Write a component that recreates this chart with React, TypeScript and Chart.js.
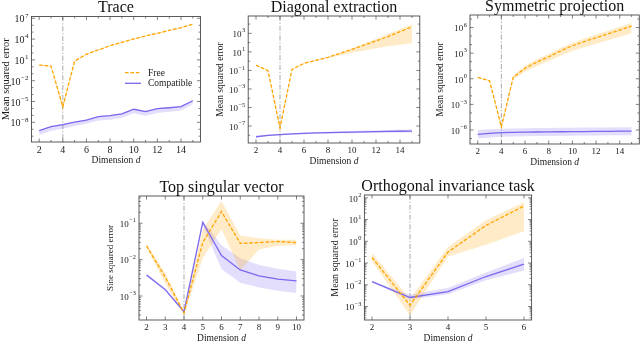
import React, { useEffect, useRef } from 'react';
import { Chart, registerables } from 'chart.js';

Chart.register(...registerables);

const FONT = '"Liberation Serif", "DejaVu Serif", serif';
const ORANGE = 'rgb(255,165,0)';
const ORANGE_BAND = 'rgba(255,165,0,0.22)';
const PURPLE = 'rgb(123,104,238)';
const PURPLE_BAND = 'rgba(123,104,238,0.22)';
const TEXT = '#1a1a1a';
const FRAME = '#4a4a4a';

// ---------- Data ----------
const dimsLong = [2, 3, 4, 5, 6, 7, 8, 9, 10, 11, 12, 13, 14, 15];
const dimsTsv = [2, 3, 4, 5, 6, 7, 8, 9, 10];
const dimsOit = [2, 3, 4, 5, 6];

const ticksLong = [2, 4, 6, 8, 10, 12, 14];
const ticksTsv = [2, 3, 4, 5, 6, 7, 8, 9, 10];
const ticksOit = [2, 3, 4, 5, 6];

// Trace
const traceFree = [1.8, 1.3, 1.8e-6, 7.0, 6.5e1, 2.7e2, 1.1e3, 3.5e3, 1.05e4, 2.8e4, 6.9e4, 1.8e5, 4.4e5, 1.35e6];
const traceFreeHi = [2.1, 1.55, 5e-6, 8.2, 7.5e1, 3.1e2, 1.25e3, 4.0e3, 1.2e4, 3.2e4, 7.9e4, 2.1e5, 5.0e5, 1.55e6];
const traceFreeLo = [1.5, 1.1, 5e-7, 5.8, 5.6e1, 2.3e2, 9.5e2, 3.0e3, 9.0e3, 2.4e4, 6.0e4, 1.55e5, 3.8e5, 1.15e6];
const traceComp = [6.2e-10, 2.3e-9, 4.5e-9, 1.1e-8, 2.1e-8, 6.5e-8, 8.9e-8, 1.6e-7, 7.6e-7, 3.4e-7, 9.1e-7, 1.26e-6, 1.8e-6, 1.3e-5];
const traceCompHi = [7.5e-10, 2.8e-9, 5.5e-9, 1.3e-8, 2.6e-8, 7.8e-8, 1.1e-7, 2.0e-7, 9.0e-7, 5.0e-7, 1.1e-6, 1.5e-6, 2.2e-6, 1.5e-5];
const traceCompLo = [1.5e-10, 6e-10, 1.2e-9, 3e-9, 6e-9, 1.8e-8, 2.4e-8, 4.5e-8, 2.0e-7, 9e-8, 2.2e-7, 3.2e-7, 5e-7, 4e-6];
const traceYTicks = [-8, -5, -2, 1, 4, 7];

// Diagonal extraction
const diagFree = [3.8e-1, 9.3e-2, 6.3e-8, 1.3e-1, 5.8e-1, 1.23, 2.6, 6.9, 1.9e1, 5.2e1, 1.5e2, 4.5e2, 1.5e3, 5.1e3];
const diagFreeHi = [4.2e-1, 1.05e-1, 1.2e-7, 1.45e-1, 6.5e-1, 1.4, 2.9, 8.0, 2.5e1, 8.0e1, 2.5e2, 9.0e2, 2.8e3, 9.3e3];
const diagFreeLo = [3.4e-1, 8.2e-2, 3e-8, 1.15e-1, 5.2e-1, 1.1, 2.2, 4.0, 8.0, 1.4e1, 2.5e1, 4.0e1, 6.0e1, 8.3e1];
const diagComp = [7e-9, 1e-8, 1.2e-8, 1.4e-8, 1.6e-8, 1.8e-8, 1.9e-8, 2.1e-8, 2.25e-8, 2.4e-8, 2.5e-8, 2.6e-8, 2.75e-8, 2.8e-8];
const diagCompHi = [8.5e-9, 1.2e-8, 1.45e-8, 1.7e-8, 1.95e-8, 2.2e-8, 2.4e-8, 2.7e-8, 3.0e-8, 3.2e-8, 3.4e-8, 3.7e-8, 4.0e-8, 4.2e-8];
const diagCompLo = [5.8e-9, 8.3e-9, 1.0e-8, 1.15e-8, 1.3e-8, 1.45e-8, 1.5e-8, 1.65e-8, 1.7e-8, 1.8e-8, 1.85e-8, 1.9e-8, 2.0e-8, 2.0e-8];
const diagYTicks = [-7, -5, -3, -1, 1, 3];

// Symmetric projection
const symFree = [1.45, 5.9e-1, 2.3e-6, 1.45, 1.7e1, 9.0e1, 3.8e2, 1.8e3, 7.4e3, 2.3e4, 6.5e4, 1.8e5, 5.1e5, 1.5e6];
const symFreeHi = [1.6, 6.5e-1, 4e-6, 2.3, 3.4e1, 1.9e2, 8.0e2, 3.9e3, 1.6e4, 5.1e4, 1.5e5, 4.1e5, 1.2e6, 3.6e6];
const symFreeLo = [1.3, 5.3e-1, 1.2e-6, 8.0e-1, 6.8, 3.2e1, 1.2e2, 5.0e2, 1.85e3, 5.2e3, 1.3e4, 3.3e4, 8.5e4, 2.1e5];
const symComp = [3.1e-7, 4e-7, 4.8e-7, 5.2e-7, 5.5e-7, 5.8e-7, 6e-7, 6.2e-7, 6.4e-7, 6.6e-7, 6.8e-7, 7e-7, 7.2e-7, 7.4e-7];
const symCompHi = [1e-6, 1.2e-6, 1.4e-6, 1.5e-6, 1.6e-6, 1.7e-6, 1.75e-6, 1.8e-6, 1.85e-6, 1.9e-6, 1.95e-6, 2e-6, 2.05e-6, 2.1e-6];
const symCompLo = [1e-7, 1.35e-7, 1.6e-7, 1.75e-7, 1.85e-7, 1.95e-7, 2e-7, 2.1e-7, 2.15e-7, 2.2e-7, 2.3e-7, 2.35e-7, 2.4e-7, 2.5e-7];
const symYTicks = [-6, -3, 0, 3, 6];

// Top singular vector
const tsvFree = [2.4e-2, 3.3e-3, 3.4e-4, 2.95e-2, 2.1e-1, 2.8e-2, 2.95e-2, 3.15e-2, 2.95e-2];
const tsvFreeHi = [2.7e-2, 4.3e-3, 3.8e-4, 6.6e-2, 4.1e-1, 4.6e-2, 3.9e-2, 3.5e-2, 3.5e-2];
const tsvFreeLo = [2.1e-2, 2.2e-3, 3.0e-4, 1.1e-2, 6.9e-2, 5.2e-3, 1.9e-2, 2.4e-2, 2.5e-2];
const tsvComp = [3.8e-3, 1.5e-3, 3.7e-4, 1.07e-1, 1.3e-2, 5.2e-3, 3.6e-3, 2.9e-3, 2.6e-3];
const tsvCompHi = [4.2e-3, 1.6e-3, 4.0e-4, 1.15e-1, 2.5e-2, 1.1e-2, 7.1e-3, 5.6e-3, 4.7e-3];
const tsvCompLo = [3.5e-3, 1.35e-3, 3.5e-4, 8.9e-2, 5.5e-3, 2.3e-3, 1.7e-3, 1.4e-3, 1.2e-3];
const tsvYTicks = [-3, -2, -1];

// Orthogonal invariance task
const oitFree = [1.8e-1, 1.15e-3, 3.2e-1, 5.4, 4.2e1];
const oitFreeHi = [2.9e-1, 2.2e-3, 5.5e-1, 9.3, 6.2e1];
const oitFreeLo = [1.2e-1, 4.0e-4, 2.0e-1, 7.0e-1, 2.9];
const oitComp = [1.4e-2, 2.6e-3, 4.9e-3, 2.4e-2, 8.9e-2];
const oitCompHi = [1.5e-2, 3.5e-3, 7.1e-3, 3.7e-2, 1.7e-1];
const oitCompLo = [1.3e-2, 2.1e-3, 3.7e-3, 1.6e-2, 4.5e-2];
const oitYTicks = [-3, -2, -1, 0, 1, 2];

// ---------- Panel configuration ----------
interface PanelCfg {
  id: string;
  title: string;
  yLabel: string;
  box: [number, number, number, number];
  dims: number[];
  free: number[]; freeHi: number[]; freeLo: number[];
  comp: number[]; compHi: number[]; compLo: number[];
  xRange: [number, number];
  xTicks: number[];
  xMinor: number[];
  yExp: [number, number];
  yTickExps: number[];
  yMinorSub: boolean;
  vline: number;
  legend: boolean;
  tickFont: number;
  yLabelFont: number;
  yLabelX: number;
}

const panels: PanelCfg[] = [
  {
    id: 'trace', title: 'Trace', yLabel: 'Mean squared error',
    box: [31.5, 16.5, 200.5, 142],
    dims: dimsLong, free: traceFree, freeHi: traceFreeHi, freeLo: traceFreeLo,
    comp: traceComp, compHi: traceCompHi, compLo: traceCompLo,
    xRange: [1.35, 15.65], xTicks: ticksLong, xMinor: [3, 5, 7, 9, 11, 13, 15],
    yExp: [-10.84, 7.26], yTickExps: traceYTicks, yMinorSub: false,
    vline: 4, legend: true, tickFont: 10, yLabelFont: 10.5, yLabelX: 6,
  },
  {
    id: 'diag', title: 'Diagonal extraction', yLabel: 'Mean squared error',
    box: [248.2, 16, 419.8, 143],
    dims: dimsLong, free: diagFree, freeHi: diagFreeHi, freeLo: diagFreeLo,
    comp: diagComp, compHi: diagCompHi, compLo: diagCompLo,
    xRange: [1.35, 15.65], xTicks: ticksLong, xMinor: [3, 5, 7, 9, 11, 13, 15],
    yExp: [-8.83, 4.87], yTickExps: diagYTicks, yMinorSub: false,
    vline: 4, legend: false, tickFont: 9, yLabelFont: 9.5, yLabelX: 220.5,
  },
  {
    id: 'sym', title: 'Symmetric projection', yLabel: 'Mean squared error',
    box: [470, 15, 639.3, 144],
    dims: dimsLong, free: symFree, freeHi: symFreeHi, freeLo: symFreeLo,
    comp: symComp, compHi: symCompHi, compLo: symCompLo,
    xRange: [1.35, 15.65], xTicks: ticksLong, xMinor: [3, 5, 7, 9, 11, 13, 15],
    yExp: [-7.64, 7.47], yTickExps: symYTicks, yMinorSub: false,
    vline: 4, legend: false, tickFont: 9, yLabelFont: 9.5, yLabelX: 440.5,
  },
  {
    id: 'tsv', title: 'Top singular vector', yLabel: 'Sine squared error',
    box: [139, 196, 304, 320],
    dims: dimsTsv, free: tsvFree, freeHi: tsvFreeHi, freeLo: tsvFreeLo,
    comp: tsvComp, compHi: tsvCompHi, compLo: tsvCompLo,
    xRange: [1.6, 10.4], xTicks: ticksTsv, xMinor: [],
    yExp: [-3.66, -0.25], yTickExps: tsvYTicks, yMinorSub: true,
    vline: 4, legend: false, tickFont: 9, yLabelFont: 9, yLabelX: 110.5,
  },
  {
    id: 'oit', title: 'Orthogonal invariance task', yLabel: 'Mean squared error',
    box: [364.4, 195, 531.6, 320],
    dims: dimsOit, free: oitFree, freeHi: oitFreeHi, freeLo: oitFreeLo,
    comp: oitComp, compHi: oitCompHi, compLo: oitCompLo,
    xRange: [1.8, 6.2], xTicks: ticksOit, xMinor: [],
    yExp: [-3.62, 2.13], yTickExps: oitYTicks, yMinorSub: true,
    vline: 3, legend: false, tickFont: 9, yLabelFont: 10, yLabelX: 335.5,
  },
];

const W = 640;
const H = 342;
const XAXIS_H = 14;

function decorPlugin(cfg: PanelCfg) {
  return {
    id: 'decor-' + cfg.id,
    beforeDatasetsDraw(chart: any) {
      const { ctx, chartArea: a, scales } = chart;
      const x = scales.x.getPixelForValue(cfg.vline);
      ctx.save();
      ctx.strokeStyle = '#a8a8a8';
      ctx.lineWidth = 1;
      ctx.setLineDash([5, 1.8, 1.2, 1.8]);
      ctx.beginPath();
      ctx.moveTo(x, a.top);
      ctx.lineTo(x, a.bottom);
      ctx.stroke();
      ctx.restore();
    },
    afterDraw(chart: any) {
      const { ctx, chartArea: a, scales, data } = chart;
      const sx = scales.x;
      const sy = scales.y;
      ctx.save();
      // frame
      ctx.strokeStyle = FRAME;
      ctx.lineWidth = 0.9;
      ctx.setLineDash([]);
      ctx.strokeRect(a.left, a.top, a.right - a.left, a.bottom - a.top);

      // tick marks (inward, all sides)
      const majL = 3.5;
      const minL = 2;
      ctx.lineWidth = 0.7;
      ctx.beginPath();
      const xMark = (v: number, len: number) => {
        const px = sx.getPixelForValue(v);
        if (px < a.left || px > a.right) return;
        ctx.moveTo(px, a.bottom); ctx.lineTo(px, a.bottom - len);
        ctx.moveTo(px, a.top); ctx.lineTo(px, a.top + len);
      };
      const yMark = (v: number, len: number) => {
        const py = sy.getPixelForValue(v);
        if (py < a.top - 0.1 || py > a.bottom + 0.1) return;
        ctx.moveTo(a.left, py); ctx.lineTo(a.left + len, py);
        ctx.moveTo(a.right, py); ctx.lineTo(a.right - len, py);
      };
      cfg.xTicks.forEach((v) => xMark(v, majL));
      cfg.xMinor.forEach((v) => xMark(v, minL));
      sy.ticks.forEach((t: any) => yMark(t.value, majL));
      const lo = Math.floor(cfg.yExp[0]);
      const hi = Math.ceil(cfg.yExp[1]);
      for (let e = lo; e <= hi; e++) {
        if (cfg.yMinorSub) {
          for (let k = 2; k <= 9; k++) yMark(k * Math.pow(10, e), minL);
        } else if (!cfg.yTickExps.includes(e)) {
          yMark(Math.pow(10, e), minL);
        }
      }
      ctx.stroke();

      // y tick labels with superscript exponents
      ctx.fillStyle = TEXT;
      ctx.textBaseline = 'middle';
      ctx.textAlign = 'left';
      const f = cfg.tickFont;
      sy.ticks.forEach((t: any) => {
        const py = sy.getPixelForValue(t.value);
        const exp = String(Math.round(Math.log10(t.value))).replace('-', '\u2212');
        ctx.font = `${f * 0.7}px ${FONT}`;
        const we = ctx.measureText(exp).width;
        ctx.font = `${f}px ${FONT}`;
        const wb = ctx.measureText('10').width;
        const right = a.left - 3;
        ctx.fillText('10', right - we - wb - 0.5, py + 1.5);
        ctx.font = `${f * 0.7}px ${FONT}`;
        ctx.fillText(exp, right - we, py - 2.5);
      });

      // x axis title: "Dimension d"
      const xf = 9.5;
      ctx.font = `${xf}px ${FONT}`;
      const w1 = ctx.measureText('Dimension ').width;
      ctx.font = `italic ${xf}px ${FONT}`;
      const w2 = ctx.measureText('d').width;
      const cx = (a.left + a.right) / 2;
      const ty = a.bottom + 18.5;
      ctx.textAlign = 'left';
      ctx.font = `${xf}px ${FONT}`;
      ctx.fillText('Dimension ', cx - (w1 + w2) / 2, ty);
      ctx.font = `italic ${xf}px ${FONT}`;
      ctx.fillText('d', cx - (w1 + w2) / 2 + w1, ty);

      // y axis title
      ctx.save();
      ctx.translate(cfg.yLabelX, (a.top + a.bottom) / 2);
      ctx.rotate(-Math.PI / 2);
      ctx.textAlign = 'center';
      ctx.font = `${cfg.yLabelFont}px ${FONT}`;
      ctx.fillText(cfg.yLabel, 0, 0);
      ctx.restore();

      // title
      ctx.textAlign = 'center';
      ctx.textBaseline = 'alphabetic';
      ctx.font = `16px ${FONT}`;
      ctx.fillStyle = '#111';
      ctx.fillText(cfg.title, (a.left + a.right) / 2, a.top - 4.5);

      // legend
      if (cfg.legend) {
        const lx = a.left + 93.5;
        const rows = [a.top + 56.2, a.top + 66.8];
        [0, 1].forEach((i) => {
          const ds = data.datasets[i];
          const ly = rows[i];
          ctx.strokeStyle = ds.borderColor;
          ctx.lineWidth = ds.borderWidth;
          ctx.setLineDash(ds.borderDash || []);
          ctx.beginPath();
          ctx.moveTo(lx, ly);
          ctx.lineTo(lx + 16, ly);
          ctx.stroke();
          ctx.setLineDash([]);
          ctx.fillStyle = TEXT;
          ctx.textAlign = 'left';
          ctx.textBaseline = 'middle';
          ctx.font = `9.5px ${FONT}`;
          ctx.fillText(ds.label, lx + 23, ly + 0.5);
        });
      }
      ctx.restore();
    },
  };
}

function Panel({ cfg }: { cfg: PanelCfg }) {
  const ref = useRef<HTMLCanvasElement | null>(null);
  useEffect(() => {
    const canvas = ref.current;
    if (!canvas) return;
    const [L, T, R, B] = cfg.box;
    const pts = (ys: number[]) => cfg.dims.map((d, i) => ({ x: d, y: ys[i] }));
    const bandLine = { borderWidth: 0, borderColor: 'rgba(0,0,0,0)', pointRadius: 0 };
    const chart = new Chart(canvas, {
      type: 'line',
      data: {
        datasets: [
          { label: 'Free', data: pts(cfg.free), borderColor: ORANGE, borderWidth: 1.3, borderDash: [3.6, 1.8], pointRadius: 0, fill: false, tension: 0 },
          { label: 'Compatible', data: pts(cfg.comp), borderColor: PURPLE, borderWidth: 1.3, pointRadius: 0, fill: false, tension: 0 },
          { label: 'Free band hi', data: pts(cfg.freeHi), ...bandLine, fill: false },
          { label: 'Free band lo', data: pts(cfg.freeLo), ...bandLine, backgroundColor: ORANGE_BAND, fill: '-1' },
          { label: 'Compatible band hi', data: pts(cfg.compHi), ...bandLine, fill: false },
          { label: 'Compatible band lo', data: pts(cfg.compLo), ...bandLine, backgroundColor: PURPLE_BAND, fill: '-1' },
        ] as any,
      },
      options: {
        responsive: false,
        animation: false,
        events: [],
        devicePixelRatio: 1,
        layout: { padding: { left: L, top: T, right: W - R, bottom: H - B - XAXIS_H } },
        plugins: {
          legend: { display: false },
          tooltip: { enabled: false },
          title: { display: false },
        },
        scales: {
          x: {
            type: 'linear',
            min: cfg.xRange[0],
            max: cfg.xRange[1],
            grid: { display: false, drawTicks: false, tickLength: 0 },
            border: { display: false },
            ticks: {
              font: { family: FONT, size: cfg.tickFont },
              color: TEXT,
              padding: 2,
              maxRotation: 0,
              autoSkip: false,
            },
            afterBuildTicks: (s: any) => { s.ticks = cfg.xTicks.map((v) => ({ value: v })); },
            afterFit: (s: any) => { s.height = XAXIS_H; },
          },
          y: {
            type: 'logarithmic',
            min: Math.pow(10, cfg.yExp[0]),
            max: Math.pow(10, cfg.yExp[1]),
            grid: { display: false, drawTicks: false, tickLength: 0 },
            border: { display: false },
            ticks: { display: false },
            afterBuildTicks: (s: any) => { s.ticks = cfg.yTickExps.map((e) => ({ value: Math.pow(10, e) })); },
            afterFit: (s: any) => { s.width = 0; },
          },
        },
      } as any,
      plugins: [decorPlugin(cfg)],
    });
    return () => chart.destroy();
  }, [cfg]);
  return (
    <canvas
      ref={ref}
      width={W}
      height={H}
      style={{ position: 'absolute', left: 0, top: 0, width: W, height: H }}
    />
  );
}

export default function App() {
  return (
    <div style={{ position: 'absolute', left: 0, top: 0, width: W, height: H, background: '#ffffff', overflow: 'hidden' }}>
      {panels.map((p) => (
        <Panel key={p.id} cfg={p} />
      ))}
    </div>
  );
}
